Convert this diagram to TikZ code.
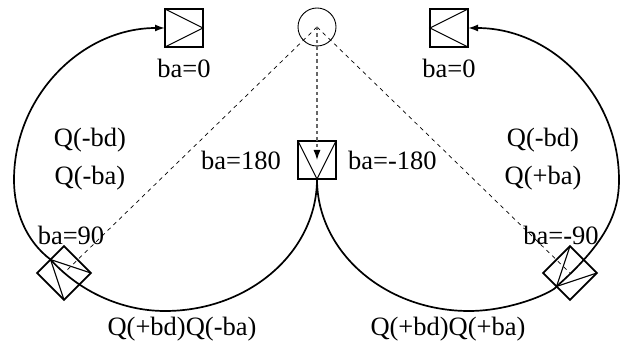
\documentclass[tikz,border=0pt]{standalone}
\usepackage{fontspec}
\setmainfont{Liberation Serif}
\usetikzlibrary{arrows.meta,positioning}
\begin{document}
\begin{tikzpicture}[x=1pt,y=-1pt, every node/.style={font=\fontsize{26.5}{30}\selectfont,inner sep=0pt},
 box/.style={draw,line width=1.8pt,minimum size=38pt,outer sep=0pt},
 arc/.style={line width=1.7pt},
 arr/.style={-{Latex[length=10pt,width=7pt]},line width=1.7pt},
 ray/.style={dash pattern=on 4pt off 4pt,line width=0.7pt}]
\useasboundingbox (0,0) rectangle (624,344);
\node[box] (lefttop) at (184,28) {};
\node[box,rotate=180] (righttop) at (449,28) {};
\node[box,rotate=-90] (mid) at (317,160) {};
\node[box,rotate=135] (leftlow) at (64,273) {};
\node[box,rotate=-135] (rightlow) at (570,273) {};
\node[draw,circle,minimum size=38pt,line width=0.9pt] (hub) at (317,27) {};
\foreach \n in {lefttop,righttop,mid,leftlow,rightlow}
  \draw[line width=1.1pt] (\n.north west)--(\n.east)--(\n.south west);
\draw[ray] (hub.center)--(leftlow.center);
\draw[ray] (hub.center)--(rightlow.center);
\draw[-{Latex[length=10pt,width=7pt,fill=black,black]},dash pattern=on 3.5pt off 3pt,draw=black!60,line width=1.2pt] (hub.center)--(mid.center);
\coordinate (lb) at (165,311);
\coordinate (lw) at (14,180);
\coordinate (rb) at (469,311);
\coordinate (re) at (619,180);
\draw[arc] (mid.east) .. controls (317,252) and (249,311) .. (lb) .. controls (121,311) and (79,291) .. (leftlow.east);
\draw[arr] (leftlow.east) .. controls (26,241) and (14,211) .. (lw) .. controls (14,96) and (82,28) .. (lefttop.west);
\draw[arc] (mid.east) .. controls (317,252) and (385,311) .. (rb) .. controls (513,311) and (555,291) .. (rightlow.east);
\draw[arr] (rightlow.east) .. controls (608,241) and (619,211) .. (re) .. controls (619,96) and (552,28) .. (righttop.west);
\node[below=12pt of lefttop.south] (lba) {ba=0};
\node[below=12pt of righttop.north] (rba) {ba=0};
\node[left=36pt of mid.center] (mlb) {ba=180};
\node[right=31pt of mid.center] (mrb) {ba=-180};
\node (lq1) at (90,140) {Q(-bd)};
\node (lq2) at (90,178) {Q(-ba)};
\node (rq1) at (543,140) {Q(-bd)};
\node (rq2) at (543,178) {Q(+ba)};
\node (lang) at (71,235) {ba=90};
\node (rang) at (561,235) {ba=-90};
\node (lqq) at (182,329) {Q(+bd)Q(-ba)};
\node (rqq) at (448,329) {Q(+bd)Q(+ba)};
\end{tikzpicture}
\end{document}
